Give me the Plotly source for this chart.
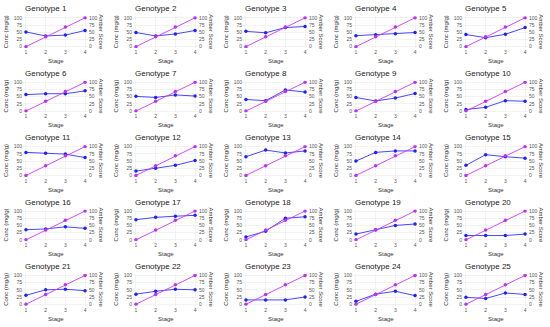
import plotly.graph_objects as go

stages = [1, 2, 3, 4]
stage_ticks = ["1", "2", "3", "4"]
amber_score = [0, 34, 68, 100]
genotypes = [f"Genotype {i}" for i in range(1, 26)]
conc = [
    [51, 37, 40, 56], [49, 37, 44, 56], [53, 48, 66, 70], [38, 41, 45, 49], [42, 31, 43, 66],
    [57, 60, 60, 70], [51, 47, 56, 52], [40, 36, 73, 66], [47, 35, 45, 61], [5, 13, 36, 34],
    [80, 77, 74, 62], [15, 25, 35, 52], [65, 88, 78, 85], [50, 80, 85, 85], [35, 72, 65, 60],
    [35, 38, 45, 40], [70, 78, 82, 85], [10, 30, 75, 80], [20, 35, 50, 55], [15, 15, 15, 20],
    [31, 50, 52, 47], [35, 45, 52, 50], [15, 15, 15, 25], [10, 35, 45, 30], [24, 20, 39, 34],
]

W, H = 550, 327


def px(x):
    return x / W


def py(y):
    return 1 - y / H


fig = go.Figure()
layout = {}
annotations = []
tickfont = dict(size=5, color="#555555", family="Arial")
for i in range(25):
    r, c = divmod(i, 5)
    x0, x1 = 23 + 110 * c, 88 + 110 * c
    yt, yb = 14.5 + 65 * r, 46.5 + 65 * r
    xd = [px(x0), px(x1)]
    yd = [py(yb), py(yt)]
    xn = "x" if i == 0 else f"x{i+1}"
    y1n = f"y{2*i+1}" if i > 0 else "y"
    y2n = f"y{2*i+2}"
    xk = "xaxis" if i == 0 else f"xaxis{i+1}"
    y1k = "yaxis" if i == 0 else f"yaxis{2*i+1}"
    y2k = f"yaxis{2*i+2}"
    fig.add_trace(go.Scatter(x=stages, y=conc[i], mode="lines+markers", xaxis=xn, yaxis=y1n,
                             line=dict(color="rgba(40,40,255,0.85)", width=1),
                             marker=dict(size=3.5, color="#2020ff"), showlegend=False))
    fig.add_trace(go.Scatter(x=stages, y=amber_score, mode="lines+markers", xaxis=xn, yaxis=y2n,
                             line=dict(color="rgba(200,60,255,0.9)", width=1),
                             marker=dict(size=3.5, color="#c030f0"), showlegend=False))
    layout[xk] = dict(domain=xd, anchor=y1n, range=[0.85, 4.15], tickvals=stages, ticktext=stage_ticks,
                      showgrid=True, gridcolor="#ebebeb", gridwidth=0.6, zeroline=False, showline=False,
                      tickfont=tickfont, ticks="", ticklen=0)
    layout[y1k] = dict(domain=yd, anchor=xn, range=[-5, 105], tickvals=[0, 25, 50, 75, 100],
                       showgrid=True, gridcolor="#ebebeb", gridwidth=0.6, zeroline=False, showline=False,
                       tickfont=tickfont, ticks="")
    layout[y2k] = dict(domain=yd, anchor=xn, overlaying=y1n, side="right", range=[-5, 105],
                       tickvals=[0, 25, 50, 75, 100], showgrid=False, zeroline=False, showline=False,
                       tickfont=tickfont, ticks="")
    annotations.append(dict(text=genotypes[i], x=px(x0), y=py(7 + 65 * r), xref="paper", yref="paper",
                            xanchor="left", yanchor="middle", showarrow=False,
                            font=dict(size=8, color="#222222", family="Arial")))
    annotations.append(dict(text="Stage", x=px((x0 + x1) / 2), y=py(59.5 + 65 * r), xref="paper",
                            yref="paper", xanchor="center", yanchor="middle", showarrow=False,
                            font=dict(size=6, color="#333333", family="Arial")))
    annotations.append(dict(text="Conc (mg/g)", x=px(6 + 110 * c), y=py((yt + yb) / 2), xref="paper",
                            yref="paper", xanchor="center", yanchor="middle", showarrow=False, textangle=-90,
                            font=dict(size=6, color="#333333", family="Arial")))
    annotations.append(dict(text="Amber Score", x=px(101 + 110 * c), y=py((yt + yb) / 2), xref="paper",
                            yref="paper", xanchor="center", yanchor="middle", showarrow=False, textangle=90,
                            font=dict(size=6, color="#333333", family="Arial")))

fig.update_layout(**layout)
fig.update_layout(width=W, height=H, margin=dict(l=0, r=0, t=0, b=0), plot_bgcolor="white",
                  paper_bgcolor="white", annotations=annotations, showlegend=False)
fig.write_html("out.html", config={"displayModeBar": False, "staticPlot": True},
               post_script="document.body.style.margin='0';document.body.style.overflow='hidden';")
